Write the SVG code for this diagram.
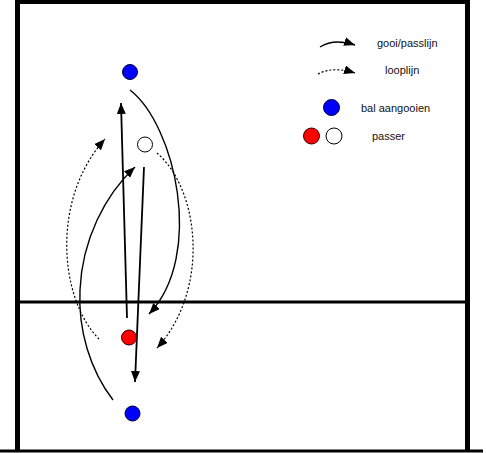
<svg xmlns="http://www.w3.org/2000/svg" width="486" height="453" viewBox="0 0 486 453">
<style>
.frame{stroke:#000;fill:none}
.pass{stroke:#000;fill:none;stroke-width:1.4}
.run{stroke:#000;fill:none;stroke-width:1.2;stroke-dasharray:2,2}
.straight{stroke:#000;fill:none;stroke-width:1.8}
.blue{fill:#0000ff;stroke:#000033;stroke-width:1}
.red{fill:#ff0000;stroke:#330000;stroke-width:1}
.white{fill:#fff;stroke:#000;stroke-width:1}
text{font-family:"Liberation Sans",Arial,sans-serif;font-size:11px;fill:#111}
</style>
<defs>
<marker id="ah" markerUnits="userSpaceOnUse" markerWidth="13" markerHeight="10" refX="11" refY="4.5" orient="auto">
<path d="M0,0 L11,4.5 L0,9 z" fill="#000"/>
</marker>
</defs>
<rect width="486" height="453" fill="#fff"/>
<g id="field">
<line class="frame" x1="17.5" y1="0" x2="17.5" y2="451" stroke-width="5"/>
<line class="frame" x1="467.5" y1="0" x2="467.5" y2="451" stroke-width="5"/>
<line class="frame" x1="15" y1="2" x2="470" y2="2" stroke-width="4"/>
<line class="frame" x1="20" y1="302" x2="465" y2="302" stroke-width="3"/>
<line class="frame" x1="0" y1="451" x2="483" y2="451" stroke-width="3"/>
</g>
<g id="connectors">
<path class="straight" d="M127,318 L121,103" marker-end="url(#ah)"/>
<path class="straight" d="M144,167 L135,382" marker-end="url(#ah)"/>
<path class="pass" d="M130,90 C175,125 205,255 149,314" marker-end="url(#ah)"/>
<path class="pass" d="M113,400 C90,370 78,330 80,290 C82,240 105,195 135,167" marker-end="url(#ah)"/>
<path class="run" d="M99,339 C60,300 50,200 105,139" marker-end="url(#ah)"/>
<path class="run" d="M157,153 C200,190 210,290 157,348" marker-end="url(#ah)"/>
</g>
<g id="player-blue-top"><circle class="blue" cx="130" cy="72" r="7.5"/></g>
<g id="player-white"><circle class="white" cx="145" cy="144.5" r="7.5"/></g>
<g id="player-red"><circle class="red" cx="129" cy="337.5" r="7.5"/></g>
<g id="player-blue-bottom"><circle class="blue" cx="132.5" cy="413.5" r="7.5"/></g>
<g id="legend">
<path class="pass" d="M320,47 Q334,38 355,45" marker-end="url(#ah)"/>
<text x="377" y="47">gooi/passlijn</text>
<path class="run" d="M318,74 Q333,66 355,73" marker-end="url(#ah)"/>
<text x="385" y="74">looplijn</text>
<circle class="blue" cx="331.5" cy="107.5" r="8"/>
<text x="361" y="112">bal aangooien</text>
<circle class="red" cx="311.5" cy="136" r="8"/>
<circle class="white" cx="334" cy="136" r="8"/>
<text x="372" y="140">passer</text>
</g>
</svg>
